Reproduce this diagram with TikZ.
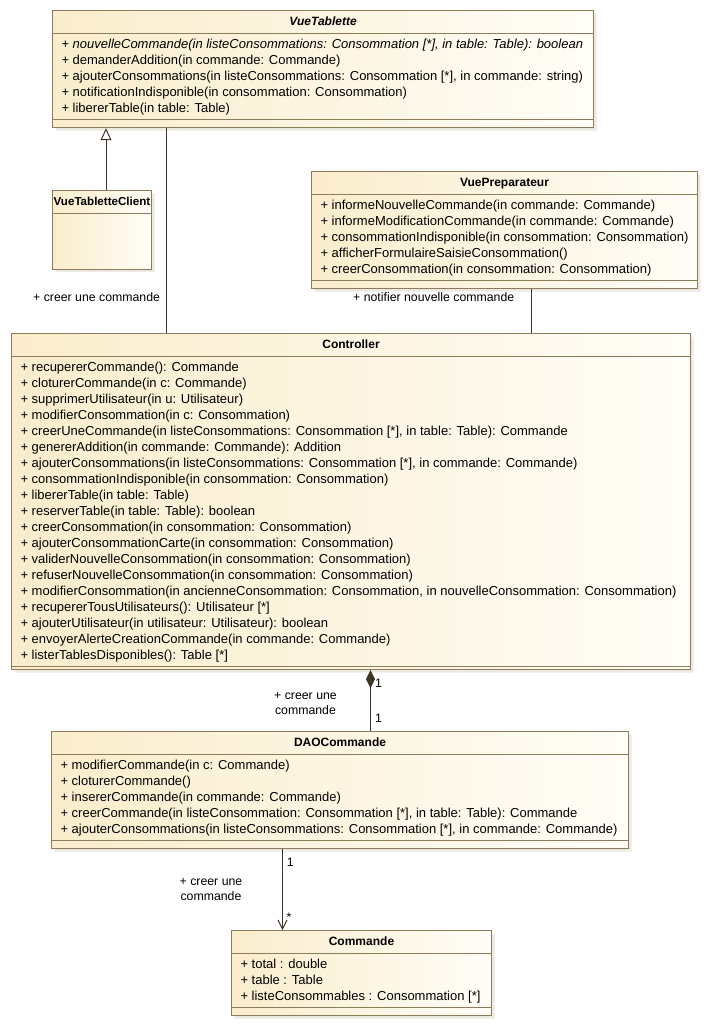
\documentclass[tikz,border=0pt]{standalone}
\usepackage{fontspec}
\setmainfont{Liberation Sans}
\usetikzlibrary{shapes.multipart,arrows.meta,shadows}
\definecolor{umlborder}{RGB}{140,124,90}
\definecolor{umlline}{RGB}{64,52,36}
\definecolor{umlleft}{RGB}{250,237,204}
\definecolor{umlright}{RGB}{255,253,247}
\definecolor{umlshadow}{RGB}{218,211,198}
\newcommand{\ttl}[1]{{\fontsize{12}{16}\selectfont\bfseries\strut#1}}
\newcommand{\lastdp}[1][12pt]{\rule[-#1]{0pt}{#1}}

\begin{document}
\begin{tikzpicture}[x=1pt,y=-1pt]
            \tikzstyle{classbox}=[rectangle split,rectangle split parts=2,
                rectangle split part align={center,left},
                align=left,anchor=north west,draw=umlborder,line width=1pt,
                left color=umlleft,right color=umlright,
                drop shadow={shadow xshift=3pt,shadow yshift=-3pt,fill=umlshadow},
                inner xsep=9pt,inner ysep=3pt,font=\fontsize{13}{16}\selectfont]
            \tikzstyle{assoc}=[draw=umlline,line width=1pt]
            \tikzstyle{lbl}=[inner sep=0pt,font=\fontsize{12.3}{15}\selectfont]
            \useasboundingbox (0,0) rectangle (708,1027);

                    \node[classbox,minimum width=541pt] (vueTablette) at (52,10)
                        {\ttl{\itshape VueTablette}
                        \nodepart{second}\strut+ \textit{nouvelleCommande(in listeConsommations: Consommation [*], in table: Table): boolean}\\
                        + demanderAddition(in commande: Commande)\\
                        + ajouterConsommations(in listeConsommations: Consommation [*], in commande: string)\\
                        + notificationIndisponible(in consommation: Consommation)\\
                        + libererTable(in table: Table)\lastdp};
                    \node[classbox,rectangle split empty part height=48.5pt,rectangle split empty part depth=0pt,
                        inner xsep=0.5pt,minimum width=99pt] (vueClient) at (52,190)
                        {{\fontsize{11.6}{16}\selectfont\bfseries\strut VueTabletteClient}
                        \nodepart{second}};
                    \node[classbox,minimum width=386pt] (vuePrep) at (311,171)
                        {\ttl{VuePreparateur}
                        \nodepart{second}\strut+ informeNouvelleCommande(in commande: Commande)\\
                        + informeModificationCommande(in commande: Commande)\\
                        + consommationIndisponible(in consommation: Consommation)\\
                        + afficherFormulaireSaisieConsommation()\\
                        + creerConsommation(in consommation: Consommation)\lastdp};
                    \node[classbox,minimum width=679pt] (controller) at (11,333)
                        {\ttl{Controller}
                        \nodepart{second}\strut+ recupererCommande(): Commande\\
                        + cloturerCommande(in c: Commande)\\
                        + supprimerUtilisateur(in u: Utilisateur)\\
                        + modifierConsommation(in c: Consommation)\\
                        + creerUneCommande(in listeConsommations: Consommation [*], in table: Table): Commande\\
                        + genererAddition(in commande: Commande): Addition\\
                        + ajouterConsommations(in listeConsommations: Consommation [*], in commande: Commande)\\
                        + consommationIndisponible(in consommation: Consommation)\\
                        + libererTable(in table: Table)\\
                        + reserverTable(in table: Table): boolean\\
                        + creerConsommation(in consommation: Consommation)\\
                        + ajouterConsommationCarte(in consommation: Consommation)\\
                        + validerNouvelleConsommation(in consommation: Consommation)\\
                        + refuserNouvelleConsommation(in consommation: Consommation)\\
                        + modifierConsommation(in ancienneConsommation: Consommation, in nouvelleConsommation: Consommation)\\
                        + recupererTousUtilisateurs(): Utilisateur [*]\\
                        + ajouterUtilisateur(in utilisateur: Utilisateur): boolean\\
                        + envoyerAlerteCreationCommande(in commande: Commande)\\
                        + listerTablesDisponibles(): Table [*]\lastdp[7pt]};
                    \node[classbox,minimum width=577pt] (daoCommande) at (51,731)
                        {\ttl{DAOCommande}
                        \nodepart{second}\strut+ modifierCommande(in c: Commande)\\
                        + cloturerCommande()\\
                        + insererCommande(in commande: Commande)\\
                        + creerCommande(in listeConsommation: Consommation [*], in table: Table): Commande\\
                        + ajouterConsommations(in listeConsommations: Consommation [*], in commande: Commande)\lastdp};
                    \node[classbox,minimum width=260pt] (commande) at (231,930)
                        {\ttl{Commande}
                        \nodepart{second}\strut+ total : double\\
                        + table : Table\\
                        + listeConsommables : Consommation [*]\lastdp};

                % empty operation compartments
                \foreach \cls/\gap in {vueTablette/9, vuePrep/9, controller/4, daoCommande/9, commande/9}
                    \draw[umlborder,line width=1pt] ([yshift=\gap pt]\cls.south west) -- ([yshift=\gap pt]\cls.south east);

                % connectors
                \draw[assoc,-{Triangle[open,fill=white,length=12pt,width=11pt]}]
                    ([xshift=54pt]vueClient.north west) -- ([xshift=54pt]vueTablette.south west);
                \draw[assoc] ([xshift=114pt]vueTablette.south west) -- ([xshift=155pt]controller.north west);
                \draw[assoc] ([xshift=220pt]vuePrep.south west) -- ([xshift=520pt]controller.north west);
                \draw[assoc,{Diamond[length=18pt,width=9pt]}-]
                    ([xshift=359.5pt]controller.south west) -- ([xshift=319.5pt]daoCommande.north west);
                \draw[assoc,-{Straight Barb[length=9pt,width=9pt]}]
                    ([xshift=231.5pt]daoCommande.south west) -- ([xshift=51.5pt]commande.north west);

                % labels
                \node[lbl,anchor=base west] (L-creer) at (33,301.5) {+ creer une commande};
                \node[lbl,anchor=base west] (L-notifier) at (353,301.5) {+ notifier nouvelle commande};
                \node[lbl,align=center] (L-creerDao) at (305.5,703.7) {\strut+ creer une\\commande\strut};
                \node[lbl,align=center] (L-creerCmd) at (211,890.4) {\strut+ creer une\\commande\strut};
                \node[lbl,anchor=base west] (M-ctrl) at (375,687.4) {1};
                \node[lbl,anchor=base west] (M-dao) at (375,722.4) {1};
                \node[lbl,anchor=base west] (M-daoOut) at (286.6,866.4) {1};
                \node[lbl,anchor=base west] (M-cmd) at (286.5,921.7) {*};
        \end{tikzpicture}
\end{document}
